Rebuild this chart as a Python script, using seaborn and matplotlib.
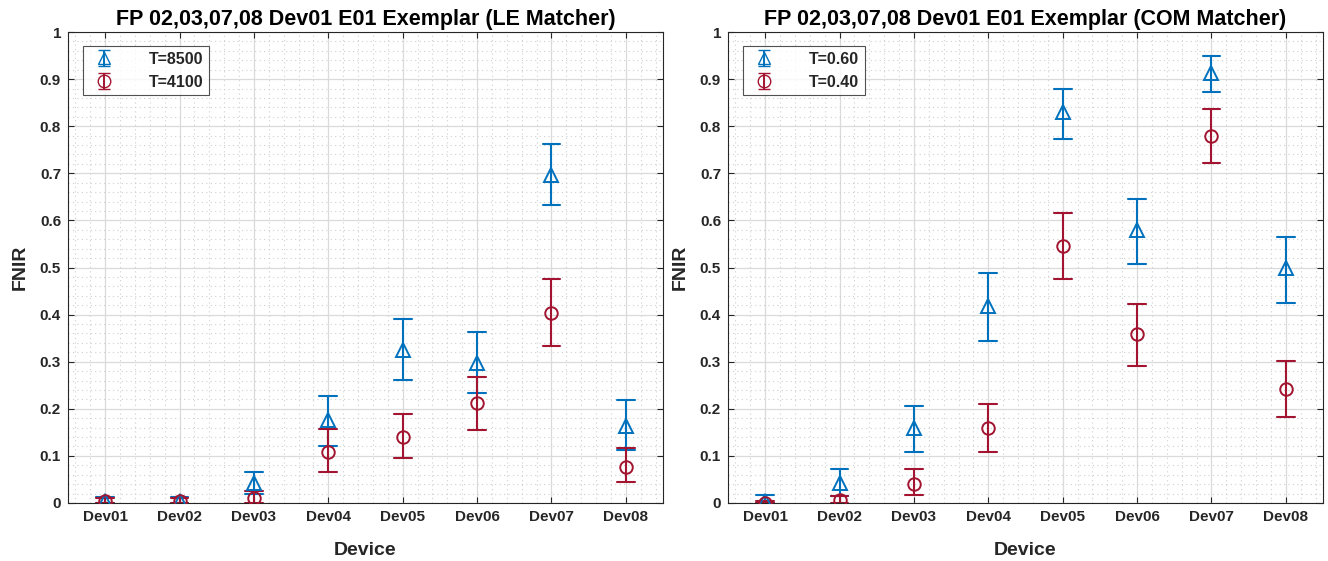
import numpy as np
import pandas as pd
import matplotlib
matplotlib.use("Agg")
import matplotlib.pyplot as plt
from matplotlib.ticker import MultipleLocator, FixedLocator
import seaborn as sns

devices = ["Dev01", "Dev02", "Dev03", "Dev04", "Dev05", "Dev06", "Dev07", "Dev08"]

# LE matcher
le_a_label = "T=8500"
le_a_val = [0.005, 0.005, 0.043, 0.176, 0.325, 0.297, 0.697, 0.164]
le_a_lo  = [0.000, 0.000, 0.020, 0.122, 0.261, 0.233, 0.632, 0.113]
le_a_hi  = [0.012, 0.012, 0.066, 0.228, 0.390, 0.362, 0.762, 0.219]
le_b_label = "T=4100"
le_b_val = [0.005, 0.005, 0.011, 0.108, 0.141, 0.212, 0.404, 0.077]
le_b_lo  = [0.000, 0.000, 0.000, 0.066, 0.096, 0.155, 0.333, 0.045]
le_b_hi  = [0.011, 0.011, 0.026, 0.157, 0.190, 0.268, 0.475, 0.116]

# COM matcher
com_a_label = "T=0.60"
com_a_val = [0.005, 0.043, 0.159, 0.418, 0.831, 0.580, 0.912, 0.498]
com_a_lo  = [0.000, 0.015, 0.109, 0.345, 0.773, 0.507, 0.873, 0.425]
com_a_hi  = [0.016, 0.072, 0.207, 0.488, 0.879, 0.646, 0.948, 0.565]
com_b_label = "T=0.40"
com_b_val = [0.001, 0.006, 0.040, 0.160, 0.546, 0.358, 0.779, 0.242]
com_b_lo  = [0.000, 0.000, 0.016, 0.109, 0.476, 0.291, 0.721, 0.182]
com_b_hi  = [0.004, 0.015, 0.072, 0.210, 0.616, 0.422, 0.837, 0.302]

titles = ["FP 02,03,07,08 Dev01 E01 Exemplar (LE Matcher)",
          "FP 02,03,07,08 Dev01 E01 Exemplar (COM Matcher)"]
ytick_vals = [0, 0.1, 0.2, 0.3, 0.4, 0.5, 0.6, 0.7, 0.8, 0.9, 1.0]
ytick_labels = ["0", "0.1", "0.2", "0.3", "0.4", "0.5", "0.6", "0.7", "0.8", "0.9", "1"]

BLUE = "#0072BD"
RED = "#A2142F"

sns.set_theme(style="white")
plt.rcParams["font.family"] = ["Liberation Sans", "DejaVu Sans"]
plt.rcParams["font.weight"] = "bold"


def long_frame(series):
    rows = []
    for label, val, lo, hi in series:
        for d, v, l, h in zip(devices, val, lo, hi):
            for q in (l, v, h):
                rows.append({"Device": d, "FNIR": q, "T": label})
    return pd.DataFrame(rows)


fig = plt.figure(figsize=(13.28, 5.61), dpi=100)
axL = fig.add_axes([68 / 1328, 58 / 561, 595 / 1328, 471 / 561])
axR = fig.add_axes([728 / 1328, 58 / 561, 595 / 1328, 471 / 561])

panels = [
    (axL, [(le_a_label, le_a_val, le_a_lo, le_a_hi), (le_b_label, le_b_val, le_b_lo, le_b_hi)], titles[0]),
    (axR, [(com_a_label, com_a_val, com_a_lo, com_a_hi), (com_b_label, com_b_val, com_b_lo, com_b_hi)], titles[1]),
]

for ax, series, title in panels:
    df = long_frame(series)
    labels = [s[0] for s in series]
    sns.pointplot(data=df, x="Device", y="FNIR", hue="T", hue_order=labels,
                  order=devices, palette=[BLUE, RED], markers=["^", "o"],
                  linestyles="none", estimator="median",
                  errorbar=lambda x: (np.min(x), np.max(x)),
                  capsize=0.24, dodge=False, ax=ax, legend=False,
                  err_kws={"linewidth": 1.5},
                  markersize=10, markeredgewidth=1.4, markerfacecolor="none")
    for ln in ax.lines:
        mk = ln.get_marker()
        if mk not in (None, "None", ""):
            ln.set_markerfacecolor("none")
            ln.set_zorder(4)
            if mk == "o":
                ln.set_markersize(9)
            elif mk == "^":
                ln.set_markersize(10.5)

    ax.set_xlim(-0.5, 7.5)
    ax.set_ylim(0, 1)
    ax.yaxis.set_major_locator(FixedLocator(ytick_vals))
    ax.set_yticklabels(ytick_labels)
    ax.yaxis.set_minor_locator(MultipleLocator(0.02))
    ax.xaxis.set_minor_locator(MultipleLocator(0.2))
    ax.grid(which="major", color="#dadada", linewidth=0.9, linestyle="-")
    ax.grid(which="minor", color="#cfcfcf", linewidth=0.8, linestyle=(0, (1, 3)))
    ax.set_axisbelow(True)
    ax.tick_params(which="major", direction="in", length=4, width=0.8,
                   top=True, right=True, bottom=True, left=True,
                   labelsize=11, colors="#262626", pad=5)
    ax.tick_params(which="minor", length=0, top=False, right=False, bottom=False, left=False)
    for lab in ax.get_xticklabels() + ax.get_yticklabels():
        lab.set_fontweight("bold")
    for sp in ax.spines.values():
        sp.set_color("#262626")
        sp.set_linewidth(0.8)
        sp.set_visible(True)
    ax.set_xlabel("Device", fontsize=14, fontweight="bold", color="#262626", labelpad=13)
    ax.set_ylabel("FNIR", fontsize=14, fontweight="bold", color="#262626", labelpad=8)
    ax.set_title(title, fontsize=15.5, fontweight="bold", color="black", pad=5)

    handles = []
    for lab, col, mk in zip(labels, [BLUE, RED], ["^", "o"]):
        h = ax.errorbar([np.nan], [np.nan], yerr=[[np.nan], [np.nan]], color=col,
                        marker=mk, markerfacecolor="none", markersize=9,
                        capsize=4, linestyle="none", label=lab, elinewidth=1.4)
        handles.append(h)
    leg = ax.legend(handles=handles, labels=labels, loc="upper left",
                    bbox_to_anchor=(0.025, 0.97), borderaxespad=0,
                    frameon=True, fancybox=False,
                    edgecolor="#262626", handlelength=2.0,
                    handletextpad=1.8, borderpad=0.35, labelspacing=0.5,
                    prop={"weight": "bold", "size": 11.5})
    leg.get_frame().set_linewidth(0.8)

fig.savefig("out.png", dpi=100, facecolor="white")
